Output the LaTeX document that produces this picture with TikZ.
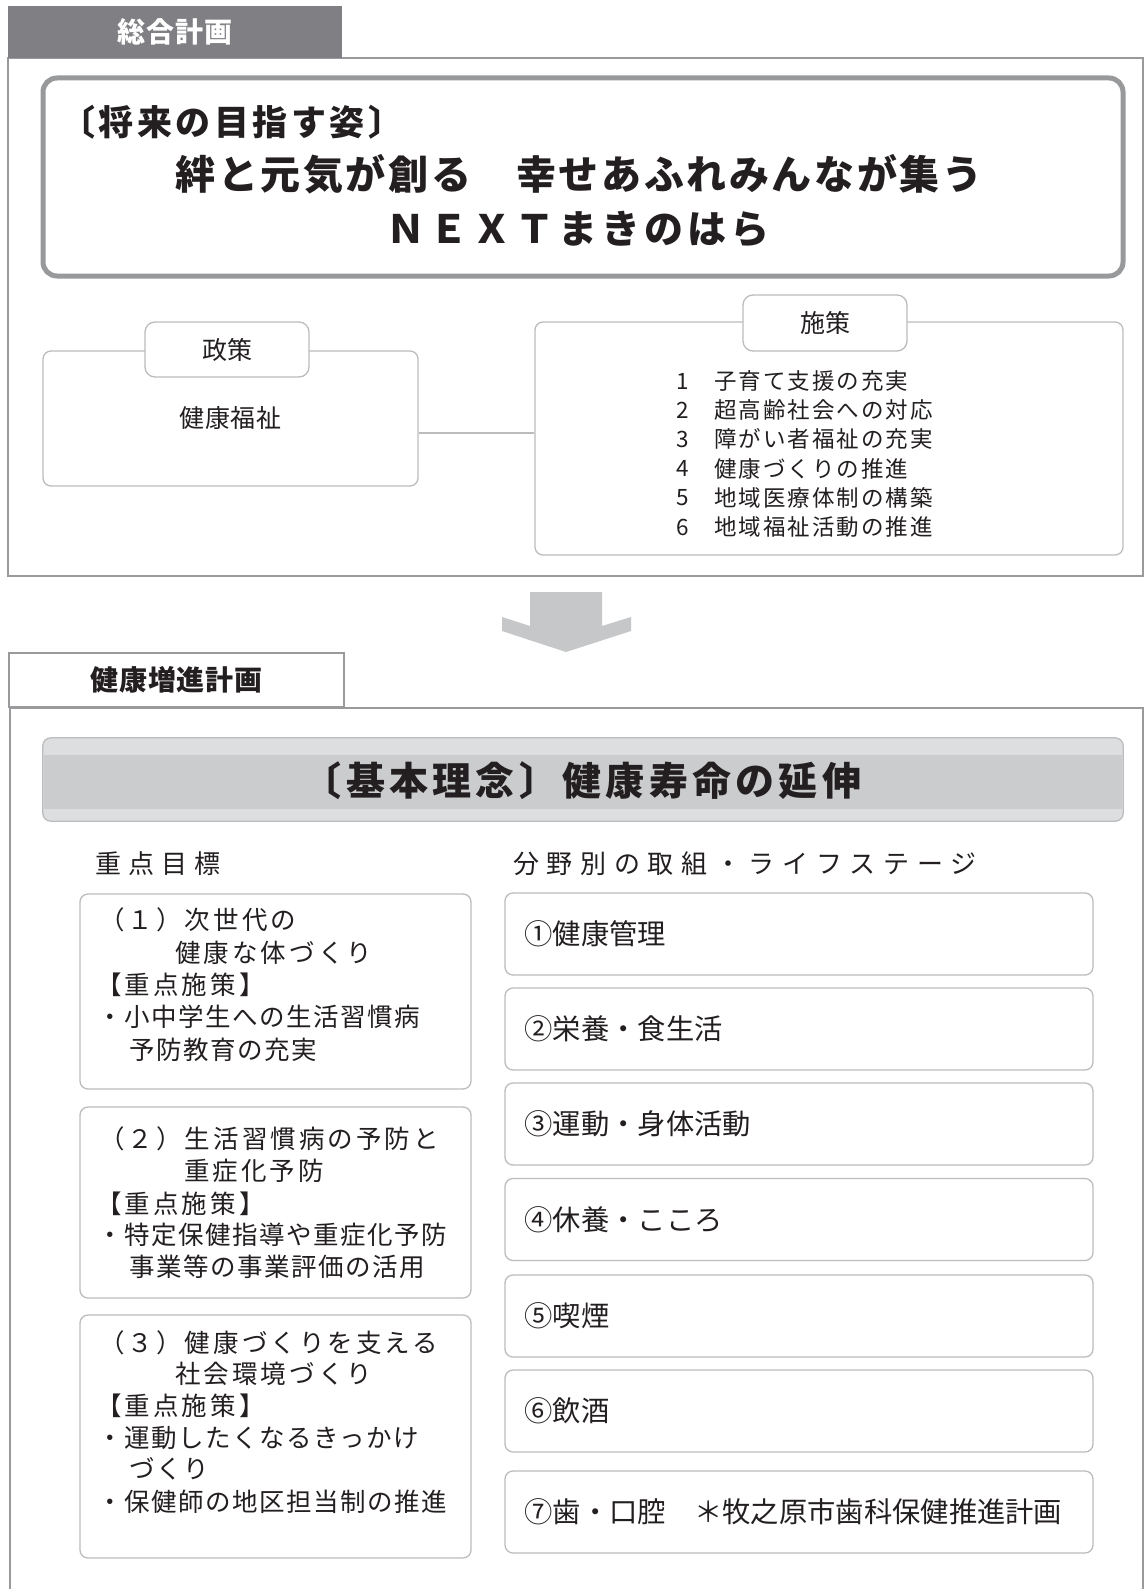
\documentclass[tikz,border=0pt]{standalone}
\usepackage{fontspec}
\setmainfont{Noto Sans CJK JP}
\definecolor{tabgray}{RGB}{128,127,132}
\definecolor{framegray}{RGB}{154,154,156}
\definecolor{visgray}{RGB}{152,153,155}
\definecolor{thingray}{RGB}{188,188,190}
\definecolor{arrowgray}{RGB}{198,199,201}
\definecolor{barlight}{RGB}{221,222,224}
\definecolor{bardark}{RGB}{203,204,206}
\definecolor{ink}{RGB}{35,31,32}
\newcommand\myfs[2]{\fontsize{#1pt}{#2pt}\selectfont}
\begin{document}
\begin{tikzpicture}[x=1pt,y=-1pt,
  frameline/.style={draw=framegray, line width=2.4pt, inner sep=0},
  thinbox/.style={draw=thingray, line width=1.3pt, rounded corners=8pt, fill=white, inner sep=0},
  tabbox/.style={draw=thingray, line width=1.3pt, rounded corners=10pt, fill=white, inner sep=0, text=ink},
  txt/.style={inner sep=0, text=ink, anchor=west},
  ctxt/.style={inner sep=0, text=ink},
  bodyfont/.style={font=\myfs{25.5}{28}\addfontfeature{LetterSpace=6}},
  titlefont/.style={font=\myfs{25.5}{28}\addfontfeature{LetterSpace=12}},
  listfont/.style={font=\myfs{22.5}{26}\addfontfeature{LetterSpace=9}},
  rightfont/.style={font=\myfs{28.3}{32}},
]
\useasboundingbox (0,0) rectangle (1146,1589);
\fill[white] (0,0) rectangle (1146,1589);

% ---------- 総合計画 ----------
\node[frameline, minimum width=1135pt, minimum height=518pt] (frameA) at (575.5,317) {};
\node[fill=tabgray, minimum width=334pt, minimum height=52pt, inner sep=0, text=white,
      font=\myfs{28}{32}\bfseries\addfontfeature{LetterSpace=3}] (tabA) at (175,32) {総合計画};

\node[draw=visgray, line width=5pt, rounded corners=14pt, minimum width=1080pt, minimum height=198pt, inner sep=0] (vision) at (583,177) {};
\node[txt, font=\myfs{35}{40}\bfseries\addfontfeature{LetterSpace=10}] (v1) at (60,122) {〔将来の目指す姿〕};
\node[ctxt, font=\myfs{40}{44}\bfseries\addfontfeature{LetterSpace=6.5}] (v2) at (579,174) {絆と元気が創る　幸せあふれみんなが集う};
\node[ctxt, font=\myfs{39}{44}\bfseries\addfontfeature{LetterSpace=10}] (v3) at (578,229) {ＮＥＸＴまきのはら};

% 政策
\node[thinbox, minimum width=375pt, minimum height=135pt, font=\myfs{25}{28}\addfontfeature{LetterSpace=3}, text=ink] (seisakuBox) at (230.5,418.5) {健康福祉};
\node[tabbox, minimum width=164pt, minimum height=55pt, font=\myfs{25}{28}] (seisakuTab) at (227,349.5) {政策};

% 施策
\node[thinbox, minimum width=588pt, minimum height=233pt] (shisakuBox) at (829,438.5) {};
\node[tabbox, minimum width=164pt, minimum height=56pt, font=\myfs{25}{28}] (shisakuTab) at (825,323) {施策};

\coordinate (lineY) at (0,433);
\draw[draw=thingray, line width=1.3pt] (seisakuBox.east |- lineY) -- (shisakuBox.west |- lineY);

\foreach \i/\t in {1/子育て支援の充実,2/超高齢社会への対応,3/障がい者福祉の充実,4/健康づくりの推進,5/地域医療体制の構築,6/地域福祉活動の推進}{
  \pgfmathsetmacro{\yy}{381+29.2*(\i-1)}
  \node[txt, listfont] (sn\i) at (676,\yy) {\i};
  \node[txt, listfont] (st\i) at (714,\yy) {\t};
}

% arrow
\fill[arrowgray] (530,592) -- (602,592) -- (602,626) -- (631,617) -- (631,631) -- (566,652) -- (502,631) -- (502,617) -- (530,626) -- cycle;

% ---------- 健康増進計画 ----------
\draw[framegray, line width=2.4pt] (10,1600) -- (10,708) -- (1143,708) -- (1143,1600);
\node[draw=framegray, line width=1.8pt, fill=white, minimum width=335pt, minimum height=54pt, inner sep=0, text=ink,
      font=\myfs{28}{32}\bfseries\addfontfeature{LetterSpace=3}] (tabB) at (176.5,680) {健康増進計画};

\node[fill=barlight, rounded corners=8pt, minimum width=1080pt, minimum height=83pt, inner sep=0] (bar) at (583,779.5) {};
\coordinate (bandTop) at (0,755);
\coordinate (bandBot) at (0,809);
\fill[bardark] ([xshift=1pt]bar.west |- bandTop) rectangle ([xshift=-1pt]bar.east |- bandBot);
\draw[draw=thingray, line width=1.3pt, rounded corners=8pt] (bar.north west) rectangle (bar.south east);
\node[ctxt, font=\myfs{39}{42}\bfseries\addfontfeature{LetterSpace=11}] (barText) at (582,781) {〔基本理念〕健康寿命の延伸};

\node[txt, font=\myfs{26}{30}\addfontfeature{LetterSpace=27}] (hdrL) at (95,864) {重点目標};
\node[txt, font=\myfs{26}{30}\addfontfeature{LetterSpace=29.5}] (hdrR) at (513,864) {分野別の取組・ライフステージ};

% left boxes
\node[thinbox, minimum width=391pt, minimum height=195pt] (g1) at (275.5,991.5) {};
\node[thinbox, minimum width=391pt, minimum height=191pt] (g2) at (275.5,1202.5) {};
\node[thinbox, minimum width=391pt, minimum height=243pt] (g3) at (275.5,1436.5) {};

\node[txt, titlefont] (g1a) at (99,920) {（１）次世代の};
\node[txt, titlefont] (g1b) at (175,953) {健康な体づくり};
\node[txt, titlefont] (g1c) at (96,985) {【重点施策】};
\node[txt, bodyfont] (g1d) at (97,1017) {・小中学生への生活習慣病};
\node[txt, bodyfont] (g1e) at (129,1050) {予防教育の充実};

\node[txt, titlefont] (g2a) at (99,1139) {（２）生活習慣病の予防と};
\node[txt, titlefont] (g2b) at (184,1171) {重症化予防};
\node[txt, titlefont] (g2c) at (96,1204) {【重点施策】};
\node[txt, bodyfont] (g2d) at (97,1235) {・特定保健指導や重症化予防};
\node[txt, bodyfont] (g2e) at (129,1267) {事業等の事業評価の活用};

\node[txt, titlefont] (g3a) at (99,1343) {（３）健康づくりを支える};
\node[txt, titlefont] (g3b) at (175,1374) {社会環境づくり};
\node[txt, titlefont] (g3c) at (96,1406) {【重点施策】};
\node[txt, bodyfont] (g3d) at (97,1438) {・運動したくなるきっかけ};
\node[txt, bodyfont] (g3e) at (129,1469) {づくり};
\node[txt, bodyfont] (g3f) at (97,1502) {・保健師の地区担当制の推進};

% right boxes
\foreach \i/\y/\t in {1/934/①健康管理,2/1029/②栄養・食生活,3/1124/③運動・身体活動,4/1219.5/④休養・こころ,5/1316/⑤喫煙,6/1411/⑥飲酒,7/1512/⑦歯・口腔　＊牧之原市歯科保健推進計画}{
  \node[thinbox, minimum width=588pt, minimum height=82pt] (r\i) at (799,\y) {};
  \node[txt, rightfont] (rt\i) at ([xshift=20pt]r\i.west) {\t};
}
\end{tikzpicture}
\end{document}
